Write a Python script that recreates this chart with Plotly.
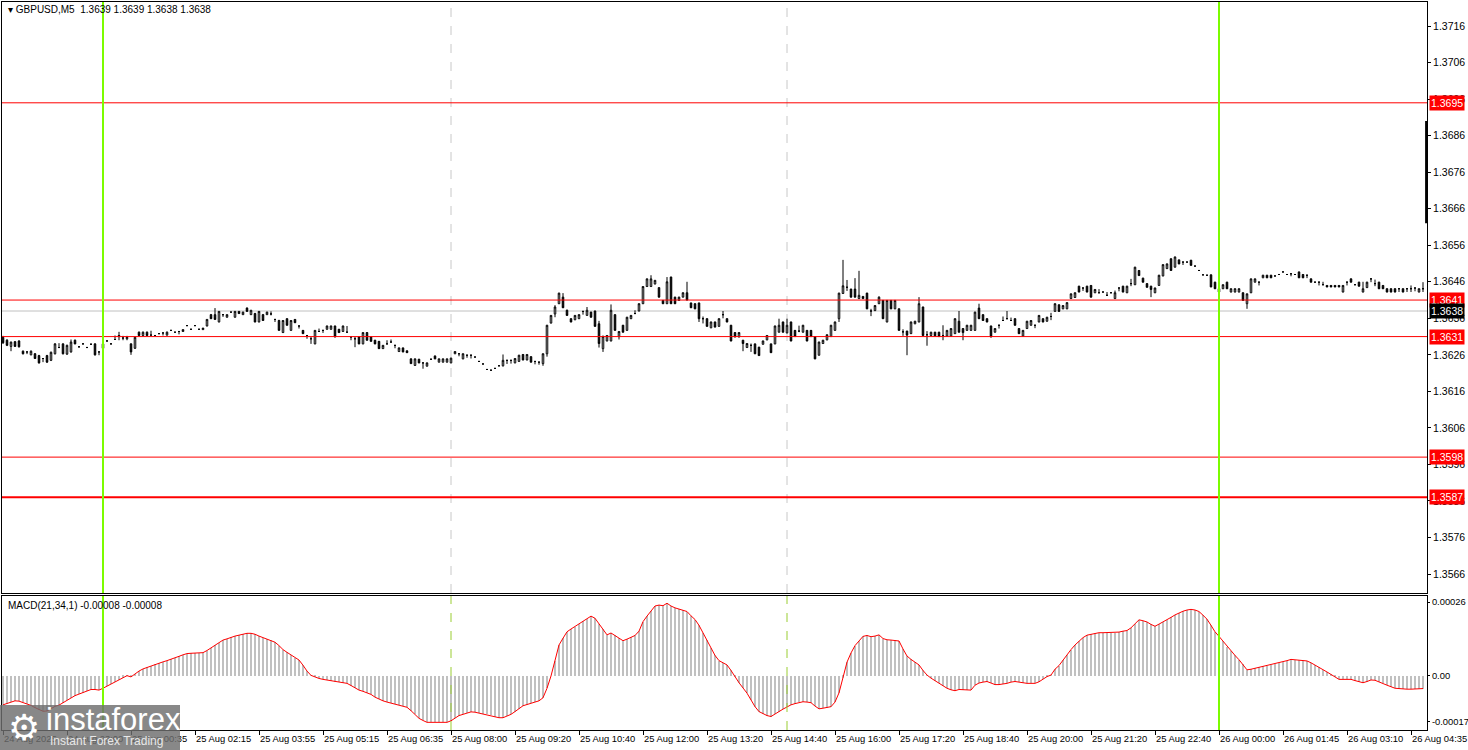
import plotly.graph_objects as go

BASE = 1.3600
PIP = 0.0001

# ---- price bars (pips above 1.3600), one value per M5 bar ----
opens_p = [
30.8,30.0,28.3,29.6,29.8,27.0,26.8,26.0,26.3,25.8,
25.0,25.8,24.5,26.3,28.0,29.0,26.2,26.8,30.0,28.2,
29.0,28.0,28.9,29.0,26.8,27.8,29.8,29.0,30.2,31.0,
30.6,30.4,29.0,27.8,32.2,31.3,32.2,31.4,31.3,31.8,
32.0,31.4,32.7,32.2,32.4,32.4,34.0,33.0,34.0,33.0,
32.9,33.9,37.0,37.0,35.0,37.0,36.3,37.7,36.3,37.9,
37.0,38.8,37.0,37.3,35.0,37.0,37.0,37.2,35.7,35.4,
32.1,35.9,32.7,35.7,33.9,32.7,31.3,30.4,29.0,32.4,
32.7,33.0,33.0,33.9,33.0,32.4,32.2,30.9,30.4,30.9,
29.0,32.1,30.9,30.0,29.7,27.7,29.0,29.5,28.6,26.9,
27.9,27.1,24.9,23.1,24.8,23.8,22.9,24.8,25.7,24.0,
24.0,24.0,23.8,26.3,26.3,24.9,25.9,25.9,25.4,24.2,
23.5,22.0,21.8,22.3,23.0,23.0,24.5,24.5,23.8,24.2,
26.1,24.6,25.5,24.2,24.0,23.6,26.3,34.7,37.2,40.0,
41.8,38.2,35.9,35.6,35.9,37.9,36.8,37.7,38.0,34.5,
27.7,29.8,29.8,37.0,31.0,34.1,32.7,35.9,37.3,38.0,
40.0,44.7,44.7,45.4,44.4,40.9,40.0,47.3,41.8,40.9,
41.8,43.0,40.2,40.0,40.2,35.9,35.9,33.4,35.0,33.8,
37.0,35.9,34.1,32.1,30.9,30.0,28.0,28.6,29.0,28.1,
28.9,30.1,29.0,29.0,32.2,35.0,32.0,35.0,32.7,32.5,
32.2,32.7,32.7,31.0,25.9,29.1,30.1,31.0,32.7,35.9,
42.8,44.5,44.0,44.0,41.4,42.0,42.9,38.0,38.1,40.0,
40.9,35.0,40.9,38.6,38.6,32.3,32.5,31.8,34.5,35.0,
39.1,31.5,31.3,32.2,32.2,31.3,31.1,31.1,31.8,35.2,
33.2,32.7,32.7,32.7,38.8,37.0,35.9,33.9,32.2,34.1,
35.4,35.9,35.4,35.9,33.2,31.1,33.2,34.1,34.1,35.0,
35.9,35.2,36.5,37.9,39.7,38.6,38.6,41.4,41.7,44.8,
44.3,44.8,45.0,43.0,43.0,43.2,42.3,43.0,41.4,44.3,
44.8,43.0,45.5,45.2,49.1,47.0,45.5,44.8,43.0,45.0,
47.6,49.6,52.3,50.0,52.0,51.4,51.4,51.9,50.3,49.1,
47.9,47.8,47.9,45.9,43.2,44.1,45.9,43.2,43.2,43.2,
43.0,40.0,43.0,45.9,45.9,47.1,47.8,47.8,47.6,48.0,
48.7,48.0,48.2,48.0,48.7,48.0,47.8,46.8,45.9,45.9,
45.2,45.0,45.0,45.0,45.0,43.2,45.9,46.8,45.2,45.9,
43.2,44.4,46.8,45.5,45.9,45.0,44.1,44.1,44.1,44.1,
44.1,44.1,44.1,44.3,43.2,44.1]

highs_p = [
31.2,30.3,29.6,29.8,30.0,27.2,26.9,27.2,26.5,26.0,
25.1,26.0,26.9,29.2,29.2,29.2,28.8,30.2,30.2,28.4,
29.2,28.2,29.1,29.2,26.9,29.2,30.0,29.2,31.3,32.3,
31.2,31.2,29.2,31.0,32.4,32.4,32.4,32.6,31.4,31.9,
32.1,32.4,32.8,32.3,32.5,33.0,34.1,33.1,34.1,33.1,
33.4,35.8,37.2,38.8,38.0,37.1,37.1,37.8,38.0,38.0,
37.8,39.0,38.3,37.5,38.0,37.2,37.8,37.9,35.8,35.6,
35.5,36.0,35.5,35.8,34.0,32.8,31.4,30.9,32.8,33.2,
32.8,34.0,34.0,34.0,33.1,34.0,33.9,31.0,30.9,31.0,
32.2,32.2,31.0,30.1,29.8,28.7,30.0,30.2,28.7,28.0,
28.0,27.2,25.0,25.0,24.9,23.9,23.9,24.9,25.8,25.0,
25.0,25.0,25.2,27.0,26.4,26.4,26.0,26.0,25.5,24.3,
23.6,22.1,21.9,22.4,23.1,26.1,24.6,24.6,25.1,26.0,
26.2,26.2,25.6,24.3,24.1,26.4,34.2,36.9,39.6,43.0,
42.9,38.4,36.0,36.9,37.1,38.0,39.1,37.8,38.1,35.3,
31.2,31.4,39.8,37.1,32.5,34.2,36.4,36.9,38.2,40.1,
44.8,46.9,47.8,46.5,44.5,41.0,47.3,47.4,41.9,41.9,
43.1,46.0,40.3,40.1,40.3,36.5,36.0,35.1,35.1,36.0,
38.0,36.0,34.2,32.2,32.2,30.1,29.2,29.1,29.1,28.2,
29.9,31.4,29.1,34.0,35.9,35.1,35.9,35.1,32.8,34.0,
34.2,32.8,32.8,31.1,29.6,30.1,31.6,34.2,35.1,43.0,
52.0,46.5,44.1,47.0,49.0,42.1,43.0,38.6,39.6,42.0,
41.0,41.0,41.0,41.0,38.7,33.0,32.6,35.1,35.3,41.8,
39.2,32.5,32.3,32.3,32.3,34.1,32.8,33.3,36.0,38.0,
33.3,34.2,34.2,37.8,40.0,37.1,36.0,34.0,33.3,34.2,
36.5,38.0,36.2,36.0,33.3,32.8,35.3,35.5,34.2,36.9,
36.0,36.4,37.5,40.1,39.8,39.6,40.4,42.8,43.1,44.9,
44.4,44.9,45.1,44.0,44.0,43.3,43.2,43.1,43.6,44.4,
44.9,44.9,46.8,50.1,49.2,47.1,45.6,44.9,44.4,47.9,
50.8,51.0,52.4,52.9,52.1,51.5,51.5,52.0,50.4,49.2,
48.0,47.9,48.0,46.0,44.2,45.3,46.0,44.2,44.2,44.2,
43.1,42.8,46.9,46.9,46.0,47.9,47.9,47.9,47.7,48.1,
48.8,48.1,48.3,48.1,48.8,48.1,47.9,46.9,46.0,46.0,
46.0,45.1,45.1,45.1,45.1,45.1,46.0,46.9,45.3,46.0,
46.0,46.0,46.9,46.6,46.0,45.1,44.2,44.2,44.2,44.2,
44.2,44.2,45.0,44.4,44.2,45.9]

lows_p = [
29.0,28.4,27.0,28.2,28.0,26.1,26.2,25.9,24.9,23.6,
24.0,23.8,24.3,26.1,27.9,26.1,26.0,26.6,28.9,28.0,
28.9,27.9,28.8,25.8,25.9,27.6,29.7,28.9,30.1,30.0,
30.0,30.0,26.0,27.6,31.2,31.2,31.2,31.3,31.2,31.7,
31.3,31.3,32.6,32.1,31.6,32.3,33.9,32.9,33.9,32.9,
32.8,33.8,35.8,35.6,34.9,36.4,36.2,37.6,36.2,37.2,
36.9,37.8,36.9,34.9,34.9,35.3,36.9,36.8,35.0,32.6,
32.0,34.0,32.6,34.7,33.2,31.7,30.4,29.0,28.9,32.3,
32.0,32.9,32.9,30.8,32.0,32.3,32.1,30.0,28.1,28.9,
28.9,29.9,29.6,28.9,27.6,27.6,28.9,29.4,27.8,26.8,
26.7,26.5,23.5,23.0,23.7,22.2,22.8,24.7,24.8,23.9,
23.9,23.9,23.7,26.2,25.6,24.8,25.2,25.0,25.3,24.1,
23.4,21.9,21.7,22.2,22.9,22.8,23.5,23.6,23.7,24.1,
24.5,24.5,23.9,23.4,23.3,23.0,25.5,34.6,36.3,39.9,
38.8,36.7,34.9,35.5,35.8,37.0,36.7,36.2,33.7,28.0,
26.8,29.7,29.7,32.6,30.2,32.1,32.6,35.8,37.2,37.9,
39.9,44.6,44.6,45.3,41.7,39.9,39.9,39.9,39.9,40.8,
41.7,40.9,38.8,38.5,35.0,34.6,33.7,33.3,33.5,33.7,
36.0,34.9,29.7,30.8,30.8,27.0,27.9,26.8,26.2,25.7,
28.8,30.0,26.5,28.9,32.1,32.1,31.9,29.7,30.9,32.2,
32.1,29.7,30.9,24.8,25.8,29.0,30.0,30.9,32.6,35.0,
42.7,43.5,41.7,41.7,41.3,41.3,38.5,36.6,38.0,39.9,
35.8,34.9,38.5,38.5,32.6,31.2,25.9,31.7,34.4,34.9,
31.2,28.5,31.2,31.1,30.9,30.0,31.0,31.0,31.7,32.1,
30.0,32.6,32.6,32.6,35.8,35.3,34.9,30.8,32.1,33.2,
35.3,35.8,35.3,34.0,31.7,31.0,33.1,34.0,33.3,34.9,
34.9,35.1,35.5,37.8,37.8,38.5,38.5,41.3,41.6,43.1,
43.5,43.1,41.7,42.9,42.9,43.1,42.2,42.9,41.3,43.4,
43.1,42.9,44.8,45.1,47.6,45.8,44.4,41.8,42.9,44.9,
47.5,49.5,49.0,49.9,50.8,50.6,51.3,50.4,50.2,49.0,
47.8,47.7,44.5,44.0,43.1,44.0,44.0,43.1,43.1,43.1,
40.8,38.6,42.9,45.8,45.0,47.0,47.0,47.0,47.5,47.9,
48.6,47.9,47.5,47.9,47.0,47.0,47.0,45.8,45.8,45.0,
45.1,44.5,44.5,44.5,44.5,43.1,45.0,45.8,45.1,44.7,
43.1,44.3,45.9,44.8,44.0,44.0,43.1,43.1,43.1,43.2,
43.1,43.2,43.2,43.4,43.1,43.2]

closes_p = [
29.3,28.6,29.5,28.3,28.2,26.3,26.8,27.0,25.0,23.8,
25.0,24.0,26.7,29.0,28.0,26.3,28.6,29.5,29.0,28.2,
29.0,28.0,28.9,26.0,26.8,29.0,29.8,29.0,30.2,31.3,
30.6,30.8,26.8,30.8,31.3,32.2,31.3,31.4,31.3,31.8,
32.0,32.2,32.7,32.2,32.4,32.9,34.0,33.0,34.0,33.0,
33.3,35.7,35.9,35.7,37.9,37.0,37.0,37.7,37.9,37.3,
37.7,37.9,38.2,35.0,37.9,35.4,37.7,37.2,35.7,32.7,
35.4,34.1,35.4,34.8,33.9,31.8,31.3,30.4,32.7,32.4,
32.7,33.9,33.9,30.9,32.1,33.9,32.2,30.9,30.4,29.0,
32.1,30.0,29.7,29.0,27.7,28.6,29.0,29.5,28.6,27.9,
26.8,26.6,23.6,24.9,23.8,23.8,23.8,24.8,24.9,24.9,
24.9,24.9,25.1,26.9,26.3,26.3,25.9,25.9,25.4,24.2,
23.5,22.0,21.8,22.3,23.0,24.5,24.5,24.5,25.0,25.9,
24.6,26.1,24.0,24.2,24.0,26.3,34.1,36.8,39.1,42.9,
38.9,36.8,35.0,36.8,37.0,37.9,38.2,36.3,33.8,29.1,
31.1,31.3,38.2,32.7,32.4,32.2,36.3,36.8,37.3,40.0,
44.7,46.8,46.8,46.4,41.8,40.0,46.0,40.0,40.0,41.8,
43.0,41.0,38.9,38.6,35.9,35.9,33.8,35.0,33.6,35.9,
37.0,35.0,29.8,30.9,32.1,29.1,29.1,28.6,26.3,25.8,
29.8,31.3,26.6,33.9,34.1,32.2,34.1,29.8,31.0,32.5,
34.1,29.8,31.0,24.9,29.5,30.0,31.5,34.1,35.0,42.9,
44.9,44.5,41.8,41.8,42.3,41.4,38.6,38.0,39.5,41.8,
35.9,40.9,38.6,40.9,32.7,32.3,31.4,35.0,35.2,40.0,
31.3,31.5,32.2,31.2,31.0,31.3,32.7,33.2,35.9,32.2,
32.1,34.1,34.1,37.7,35.9,35.4,35.0,30.9,33.2,34.1,
35.4,35.9,35.4,34.1,31.8,32.7,35.2,35.4,34.1,36.8,
35.0,36.3,36.5,40.0,37.9,39.5,40.3,42.7,43.0,43.2,
44.3,43.2,41.8,43.9,43.0,43.2,42.3,43.0,43.0,44.3,
43.2,44.8,45.5,50.0,47.7,45.9,44.5,43.9,44.3,47.8,
50.7,50.9,49.1,52.8,50.9,51.4,51.4,50.5,50.3,49.1,
47.9,47.8,44.6,44.1,44.1,45.2,44.1,44.1,44.1,44.1,
40.9,42.7,46.8,46.8,45.9,47.8,47.1,47.1,47.6,48.0,
48.7,48.0,48.2,48.0,47.1,47.1,47.8,45.9,45.9,45.9,
45.2,44.6,44.6,44.6,44.6,45.0,45.9,45.9,45.2,44.8,
44.1,45.9,46.8,45.5,44.1,44.1,43.2,43.2,43.2,44.1,
43.2,44.1,44.1,44.3,44.1,44.1]

# ---- MACD(21,34,1) main value per bar, in units of 1e-5 ----
macd_e5 = [
-9.4,-9.0,-8.5,-8.1,-8.2,-8.6,-9.1,-9.6,-10.3,-11.0,
-11.5,-11.4,-10.6,-9.9,-9.5,-8.7,-7.9,-7.1,-6.4,-5.9,
-5.4,-4.9,-4.4,-4.4,-4.6,-4.0,-3.3,-2.6,-2.0,-1.3,
-0.5,0.1,-0.3,0.8,1.6,2.3,2.8,3.3,3.8,4.2,
4.6,5.0,5.4,5.9,6.4,6.9,7.3,7.4,7.5,7.6,
7.6,8.3,9.2,10.1,10.9,11.7,12.1,12.6,13.0,13.3,
13.6,13.9,13.9,13.6,13.0,12.5,12.1,11.7,11.0,9.9,
8.6,7.7,6.8,5.9,5.2,3.5,1.6,0.2,-0.4,-0.8,
-1.1,-1.3,-1.5,-1.8,-2.0,-2.2,-2.4,-3.1,-3.9,-4.6,
-5.0,-5.4,-6.0,-6.9,-7.6,-8.1,-8.5,-8.8,-9.1,-9.5,
-9.9,-10.2,-11.3,-12.5,-13.8,-14.5,-15.1,-15.1,-15.1,-15.1,
-15.1,-15.1,-14.6,-13.8,-12.9,-12.5,-12.0,-11.7,-11.8,-12.1,
-12.3,-12.5,-12.8,-13.3,-13.6,-13.6,-13.1,-12.5,-11.6,-10.7,
-9.7,-9.3,-8.9,-8.5,-8.1,-7.1,-4.0,0.0,5.0,10.1,
12.3,14.4,15.3,16.1,16.9,17.8,18.7,19.5,18.8,17.0,
15.2,13.4,14.0,13.2,12.3,11.5,12.0,12.6,13.2,14.6,
17.7,19.5,21.3,22.8,23.1,22.9,23.7,22.8,22.2,21.8,
21.4,21.0,19.6,18.4,16.5,14.1,11.7,9.2,6.7,5.0,
4.3,3.6,1.8,-0.3,-2.2,-3.9,-5.6,-7.8,-10.0,-11.6,
-12.3,-12.9,-13.2,-12.3,-11.6,-10.8,-10.1,-9.4,-9.0,-8.6,
-8.4,-8.5,-8.7,-9.8,-10.7,-10.5,-10.3,-10.0,-8.5,-5.5,
-0.5,4.5,7.5,9.9,11.4,12.9,13.2,12.8,13.0,13.4,
12.2,11.8,11.7,11.6,11.4,8.8,6.5,5.4,4.4,3.6,
1.8,0.3,-0.7,-1.5,-2.3,-3.2,-4.0,-4.5,-4.8,-4.4,
-4.5,-4.7,-4.6,-3.0,-2.3,-2.0,-1.8,-2.3,-2.8,-2.8,
-2.7,-2.4,-2.0,-1.8,-2.0,-2.3,-2.4,-2.4,-2.4,-1.9,
-0.9,-0.2,0.3,2.2,3.4,5.2,7.0,8.6,10.1,11.3,
12.5,13.3,13.6,13.9,14.1,14.1,14.1,14.1,14.1,14.3,
14.6,14.8,15.7,16.9,18.3,18.0,17.6,16.8,16.2,16.9,
17.6,18.2,19.1,19.9,20.6,21.1,21.5,21.7,21.5,21.0,
19.8,18.5,16.5,14.4,12.9,11.3,9.6,8.2,6.7,5.3,
3.8,2.0,2.2,2.5,2.8,3.1,3.3,3.6,3.9,4.3,
4.6,5.0,5.4,5.3,5.2,5.0,4.9,4.3,3.6,2.9,
2.1,1.3,0.5,-0.3,-1.1,-1.1,-1.1,-1.1,-1.5,-1.8,
-2.2,-1.8,-1.3,-1.4,-2.0,-2.4,-3.0,-3.5,-4.0,-4.1,
-4.3,-4.3,-4.3,-4.3,-4.3,-4.1]

# ---- axis labels ----
time_tick_bars = [0, 16, 32, 48, 64, 80, 96, 112, 128, 144, 160, 176,
                  192, 208, 224, 240, 256, 272, 288, 304, 320, 336, 352]
time_tick_labels = ["24 Aug 2025", "24 Aug 23:00", "25 Aug 00:35", "25 Aug 02:15",
                    "25 Aug 03:55", "25 Aug 05:15", "25 Aug 06:35", "25 Aug 08:00",
                    "25 Aug 09:20", "25 Aug 10:40", "25 Aug 12:00", "25 Aug 13:20",
                    "25 Aug 14:40", "25 Aug 16:00", "25 Aug 17:20", "25 Aug 18:40",
                    "25 Aug 20:00", "25 Aug 21:20", "25 Aug 22:40", "26 Aug 00:00",
                    "26 Aug 01:45", "26 Aug 03:10", "26 Aug 04:35"]
price_tick_vals = [1.3566, 1.3576, 1.3586, 1.3596, 1.3606, 1.3616, 1.3626, 1.3636,
                   1.3646, 1.3656, 1.3666, 1.3676, 1.3686, 1.3696, 1.3706, 1.3716]
macd_tick_labels = ["0.00026", "0.00", "-0.00017"]

red_levels = [1.3695, 1.3641, 1.3631, 1.3598, 1.3587]
bid_level = 1.3638
green_line_bars = [25, 304]
separator_bars = [112, 196]
edge_bar_prices = [1.3690, 1.3662]

header_text = "GBPUSD,M5  1.3639 1.3639 1.3638 1.3638"
macd_text = "MACD(21,34,1) -0.00008 -0.00008"

# ---- figure ----
n = len(closes_p)
xs = list(range(n))
O = [BASE + v * PIP for v in opens_p]
C = [BASE + v * PIP for v in closes_p]
Hh = [BASE + max(h, o, c) * PIP for h, o, c in zip(highs_p, opens_p, closes_p)]
Ll = [BASE + min(l, o, c) * PIP for l, o, c in zip(lows_p, opens_p, closes_p)]
macd = [v * 1e-5 for v in macd_e5]

W, H = 1468, 750
ML, MR, MT, MB = 2, 41, 2, 20
PW, PH = W - ML - MR, H - MT - MB
def px_x(px):
    return (px - ML) / PW
def px_y(py):
    return (H - MB - py) / PH

XR = [-0.25, 356]
FONT = "Liberation Sans, Arial, sans-serif"
FS = 10

fig = go.Figure()
fig.add_trace(go.Candlestick(
    x=xs, open=O, high=Hh, low=Ll, close=C, xaxis="x", yaxis="y",
    increasing=dict(line=dict(color="black", width=1), fillcolor="white"),
    decreasing=dict(line=dict(color="black", width=1), fillcolor="black"),
    whiskerwidth=0, hoverinfo="skip", showlegend=False))
fig.add_trace(go.Scatter(
    x=[n - 0.1, n - 0.1], y=edge_bar_prices, mode="lines", xaxis="x", yaxis="y",
    line=dict(color="black", width=3), cliponaxis=False, hoverinfo="skip"))
fig.add_trace(go.Bar(
    x=xs, y=macd, width=0.5, marker=dict(color="#C0C0C0", line=dict(width=0)),
    xaxis="x2", yaxis="y2", hoverinfo="skip"))
fig.add_trace(go.Scatter(
    x=xs, y=macd, mode="lines", line=dict(color="#FF0000", width=1),
    xaxis="x2", yaxis="y2", hoverinfo="skip"))

shapes = []
for lv in red_levels:
    shapes.append(dict(type="line", xref="paper", x0=0, x1=1, yref="y", y0=lv, y1=lv,
                       line=dict(color="#FF0000", width=2 if lv == 1.3587 else 1), layer="above"))
shapes.append(dict(type="line", xref="paper", x0=0, x1=1, yref="y", y0=bid_level, y1=bid_level,
                   line=dict(color="#C0C0C0", width=1), layer="below"))
for b in separator_bars:
    shapes.append(dict(type="line", xref="x", x0=b, x1=b, yref="y domain", y0=0, y1=1,
                       line=dict(color="#C8C8C8", width=1, dash="dash"), layer="below"))
    shapes.append(dict(type="line", xref="x2", x0=b, x1=b, yref="y2 domain", y0=0, y1=1,
                       line=dict(color="#9ACD32", width=1, dash="dash"), layer="above"))
for b in green_line_bars:
    shapes.append(dict(type="line", xref="x", x0=b, x1=b, yref="y domain", y0=0, y1=1,
                       line=dict(color="#7CFC00", width=2), layer="above"))
    shapes.append(dict(type="line", xref="x2", x0=b, x1=b, yref="y2 domain", y0=0, y1=1,
                       line=dict(color="#7CFC00", width=2), layer="above"))
# watermark box
shapes.append(dict(type="rect", xref="paper", yref="paper",
                   x0=px_x(0), x1=px_x(180), y0=px_y(750), y1=px_y(705),
                   fillcolor="rgba(110,110,110,0.82)", line=dict(width=0), layer="above"))

ann = []
ann.append(dict(xref="paper", yref="paper", x=px_x(6), y=px_y(10), xanchor="left", yanchor="middle",
                text="\u25BE " + header_text, showarrow=False, font=dict(family=FONT, size=FS, color="black")))
ann.append(dict(xref="paper", yref="paper", x=px_x(6), y=px_y(605), xanchor="left", yanchor="middle",
                text=macd_text, showarrow=False, font=dict(family=FONT, size=FS, color="black")))
for lv in red_levels:
    ann.append(dict(xref="paper", yref="y", x=1, y=lv, xanchor="left", yanchor="middle", xshift=2,
                    text=f"{lv:.4f}", showarrow=False, bgcolor="#FF0000", borderpad=1,
                    font=dict(family=FONT, size=10.5, color="white")))
ann.append(dict(xref="paper", yref="y", x=1, y=bid_level, xanchor="left", yanchor="middle", xshift=2,
                text=f"{bid_level:.4f}", showarrow=False, bgcolor="black", borderpad=1,
                font=dict(family=FONT, size=10.5, color="white")))
# watermark texts
ann.append(dict(xref="paper", yref="paper", x=px_x(24), y=px_y(727), xanchor="center", yanchor="middle",
                text="\u2699", showarrow=False, font=dict(family="DejaVu Sans", size=36, color="white")))
ann.append(dict(xref="paper", yref="paper", x=px_x(44), y=px_y(719), xanchor="left", yanchor="middle",
                text="instaforex", showarrow=False, font=dict(family="Liberation Sans, Arial", size=31, color="white")))
ann.append(dict(xref="paper", yref="paper", x=px_x(48), y=px_y(741), xanchor="left", yanchor="middle",
                text="Instant Forex Trading", showarrow=False, font=dict(family="Liberation Sans, Arial", size=12, color="#E8E8E8")))

main_bottom = px_y(593)
macd_top = px_y(596)
Y_RANGE = [1.35608, 1.37226]
M_RANGE = [-17.6e-5, 26.06e-5]
macd_tick_vals = [24.1e-5, 0.0, -14.8e-5]

fig.update_layout(
    width=W, height=H, margin=dict(l=ML, r=MR, t=MT, b=MB, autoexpand=False),
    paper_bgcolor="white", plot_bgcolor="white", showlegend=False,
    font=dict(family=FONT, size=FS, color="black"),
    boxgap=0.45, bargap=0,
    xaxis=dict(domain=[0, 1], anchor="y", range=XR, showticklabels=False, ticks="",
               showline=True, mirror=True, linecolor="black", linewidth=1, automargin=False,
               showgrid=False, zeroline=False, rangeslider=dict(visible=False), fixedrange=True),
    yaxis=dict(domain=[main_bottom, 1], anchor="x", side="right", range=Y_RANGE,
               tickvals=price_tick_vals, ticktext=[f"{v:.4f}" for v in price_tick_vals],
               ticks="outside", ticklen=3, tickcolor="black", automargin=False,
               tickfont=dict(size=10.5), ticklabeloverflow="allow",
               showline=True, mirror=True, linecolor="black", linewidth=1,
               showgrid=False, zeroline=False),
    xaxis2=dict(domain=[0, 1], anchor="y2", range=XR, automargin=False,
                tickvals=time_tick_bars, ticktext=time_tick_labels, tickangle=0,
                ticks="outside", ticklen=4, tickcolor="black", ticklabelposition="outside right",
                tickfont=dict(size=9.4), ticklabeloverflow="allow",
                showline=True, mirror=True, linecolor="black", linewidth=1,
                showgrid=False, zeroline=False),
    yaxis2=dict(domain=[0, macd_top], anchor="x2", side="right", range=M_RANGE,
                tickvals=macd_tick_vals, ticktext=macd_tick_labels, automargin=False,
                ticks="outside", ticklen=2, tickcolor="black", tickfont=dict(size=9.4),
                ticklabeloverflow="allow",
                showline=True, mirror=True, linecolor="black", linewidth=1,
                showgrid=False, zeroline=False),
    shapes=shapes, annotations=ann,
)

fig.write_html("out.html", config={"displayModeBar": False},
               post_script="document.body.style.margin='0px';document.body.style.overflow='hidden';")
